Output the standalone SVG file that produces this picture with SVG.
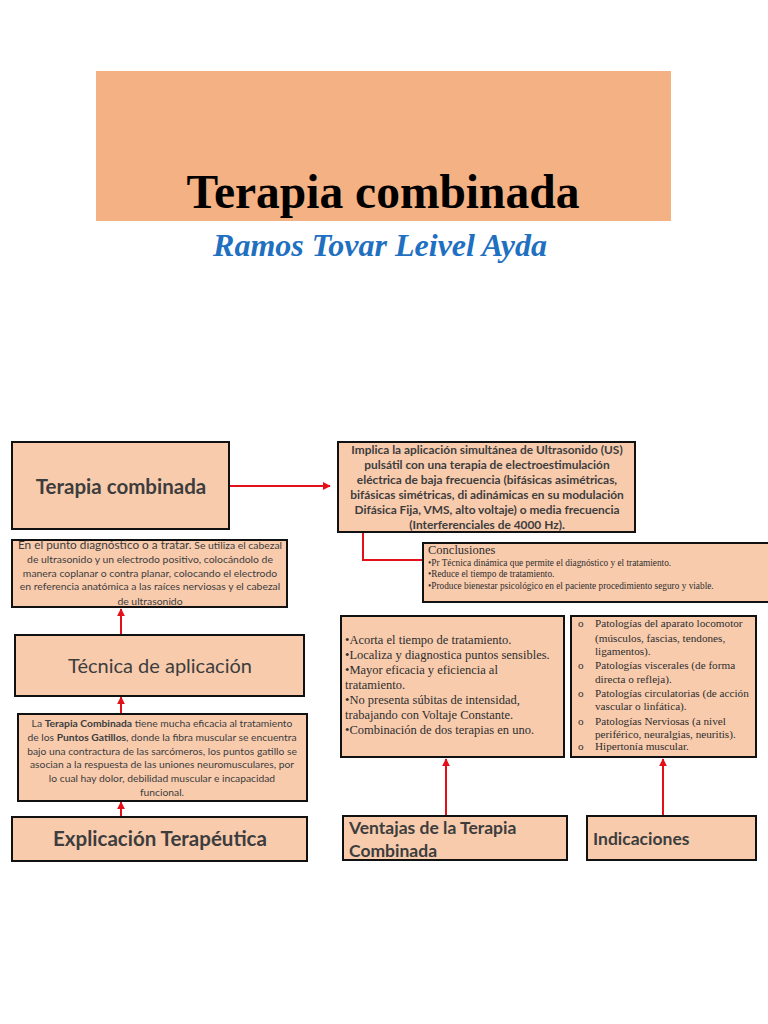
<svg xmlns="http://www.w3.org/2000/svg" width="768" height="1024" viewBox="0 0 768 1024">
<defs>
<marker id="ah" viewBox="0 0 10 10" refX="9" refY="5" markerWidth="4" markerHeight="4" orient="auto" markerUnits="strokeWidth">
<path d="M0,0 L10,5 L0,10 z" fill="#E3101A"/>
</marker>
<style>
.box{fill:#F8CBAD;stroke:#111;stroke-width:2}
.con{fill:none;stroke:#E3101A;stroke-width:2}
.cal{font-family:Lato,"Open Sans","Liberation Sans",sans-serif;fill:#3d3d3d}
.ser{font-family:"Liberation Serif","DejaVu Serif",serif;fill:#2e2e2e}
</style>
</defs>
<rect width="768" height="1024" fill="#fff"/>
<g id="title">
<rect x="96" y="71" width="575" height="150" fill="#F4B183"/>
<text x="383" y="208" text-anchor="middle" font-family="Liberation Serif,serif" font-weight="bold" font-size="47.5" fill="#000">Terapia combinada</text>
<text x="380" y="256" text-anchor="middle" font-family="Liberation Serif,serif" font-weight="bold" font-style="italic" font-size="32" fill="#1F70C1">Ramos Tovar Leivel Ayda</text>
</g>
<g id="connectors">
<line class="con" x1="229" y1="486" x2="330" y2="486" marker-end="url(#ah)"/>
<polyline class="con" points="363,533 363,560 423,560"/>
<line class="con" x1="121" y1="635" x2="121" y2="609" marker-end="url(#ah)"/>
<line class="con" x1="121" y1="713" x2="121" y2="697" marker-end="url(#ah)"/>
<line class="con" x1="121" y1="817" x2="121" y2="802" marker-end="url(#ah)"/>
<line class="con" x1="446" y1="816" x2="446" y2="759" marker-end="url(#ah)"/>
<line class="con" x1="663" y1="816" x2="663" y2="759" marker-end="url(#ah)"/>
</g>
<g id="n-terapia">
<rect class="box" x="12" y="442" width="217" height="87"/>
<text class="cal" x="121" y="494" text-anchor="middle" font-size="20.5" font-weight="bold" fill="#404040">Terapia combinada</text>
</g>
<g id="n-implica">
<rect class="box" x="338" y="442" width="297" height="90"/>
<g class="cal" font-size="11.9" font-weight="bold" text-anchor="middle">
<text x="487" y="454">Implica la aplicación simultánea de Ultrasonido (US)</text>
<text x="487" y="469">pulsátil con una terapia de electroestimulación</text>
<text x="487" y="484">eléctrica de baja frecuencia (bifásicas asimétricas,</text>
<text x="487" y="499">bifásicas simétricas, di adinámicas en su modulación</text>
<text x="487" y="514">Difásica Fija, VMS, alto voltaje) o media frecuencia</text>
<text x="487" y="529">(Interferenciales de 4000 Hz).</text>
</g>
</g>
<g id="n-conclusiones">
<rect class="box" x="423" y="543" width="350" height="59"/>
<text class="ser" x="428" y="554" font-size="12.5" fill="#111">Conclusiones</text>
<g class="ser" font-size="9.3" fill="#111">
<text x="428" y="566">•Pr Técnica dinámica que permite el diagnóstico y el tratamiento.</text>
<text x="428" y="577">•Reduce el tiempo de tratamiento.</text>
<text x="428" y="589">•Produce bienestar psicológico en el paciente procedimiento seguro y viable.</text>
</g>
</g>
<g id="n-punto">
<rect class="box" x="12" y="540" width="275" height="67"/>
<g class="cal" font-size="10.4" text-anchor="middle">
<text x="150" y="549"><tspan font-size="11.8">En el punto diagnóstico o a tratar.</tspan> Se utiliza el cabezal</text>
<text x="150" y="563">de ultrasonido y un electrodo positivo, colocándolo de</text>
<text x="150" y="577">manera coplanar o contra planar, colocando el electrodo</text>
<text x="150" y="590">en referencia anatómica a las raíces nerviosas y el cabezal</text>
<text x="150" y="605">de ultrasonido</text>
</g>
</g>
<g id="n-tecnica">
<rect class="box" x="15" y="635" width="289" height="61"/>
<text class="cal" x="160" y="673" text-anchor="middle" font-size="20" fill="#111">Técnica de aplicación</text>
</g>
<g id="n-explica">
<rect class="box" x="18" y="714" width="289" height="87"/>
<g class="cal" font-size="10.3" text-anchor="middle">
<text x="162" y="727">La <tspan font-weight="bold">Terapia Combinada</tspan> tiene mucha eficacia al tratamiento</text>
<text x="162" y="741">de los <tspan font-weight="bold">Puntos Gatillos</tspan>, donde la fibra muscular se encuentra</text>
<text x="162" y="755">bajo una contractura de las sarcómeros, los puntos gatillo se</text>
<text x="162" y="768">asocian a la respuesta de las uniones neuromusculares, por</text>
<text x="162" y="782">lo cual hay dolor, debilidad muscular e incapacidad</text>
<text x="162" y="796">funcional.</text>
</g>
</g>
<g id="n-explicacion">
<rect class="box" x="12" y="817" width="295" height="44"/>
<text class="cal" x="160" y="846" text-anchor="middle" font-size="20.5" font-weight="bold" fill="#111">Explicación Terapéutica</text>
</g>
<g id="n-ventajas-list">
<rect class="box" x="341" y="616" width="223" height="141"/>
<g class="ser" font-size="12.5">
<text x="345" y="644">•Acorta el tiempo de tratamiento.</text>
<text x="345" y="659">•Localiza y diagnostica puntos sensibles.</text>
<text x="345" y="674">•Mayor eficacia y eficiencia al</text>
<text x="345" y="689">tratamiento.</text>
<text x="345" y="704">•No presenta súbitas de intensidad,</text>
<text x="345" y="719">trabajando con Voltaje Constante.</text>
<text x="345" y="734">•Combinación de dos terapias en uno.</text>
</g>
</g>
<g id="n-indic-list">
<rect class="box" x="571" y="616" width="185" height="141"/>
<g class="ser" font-size="11.2">
<text x="578" y="627">o</text><text x="595" y="627">Patologías del aparato locomotor</text>
<text x="595" y="642">(músculos, fascias, tendones,</text>
<text x="595" y="655">ligamentos).</text>
<text x="578" y="669">o</text><text x="595" y="669">Patologías viscerales (de forma</text>
<text x="595" y="683">directa o refleja).</text>
<text x="578" y="697">o</text><text x="595" y="697">Patologías circulatorias (de acción</text>
<text x="595" y="710">vascular o linfática).</text>
<text x="578" y="725">o</text><text x="595" y="725">Patologías Nerviosas (a nivel</text>
<text x="595" y="738">periférico, neuralgias, neuritis).</text>
<text x="578" y="750">o</text><text x="595" y="750">Hipertonía muscular.</text>
</g>
</g>
<g id="n-ventajas">
<rect class="box" x="343" y="816" width="224" height="44"/>
<text class="cal" x="349" y="834" font-size="17.5" font-weight="bold" fill="#111">Ventajas de la Terapia</text>
<text class="cal" x="349" y="857" font-size="17.5" font-weight="bold" fill="#111">Combinada</text>
</g>
<g id="n-indicaciones">
<rect class="box" x="587" y="816" width="169" height="44"/>
<text class="cal" x="593" y="845" font-size="17.5" font-weight="bold" fill="#111">Indicaciones</text>
</g>
</svg>
